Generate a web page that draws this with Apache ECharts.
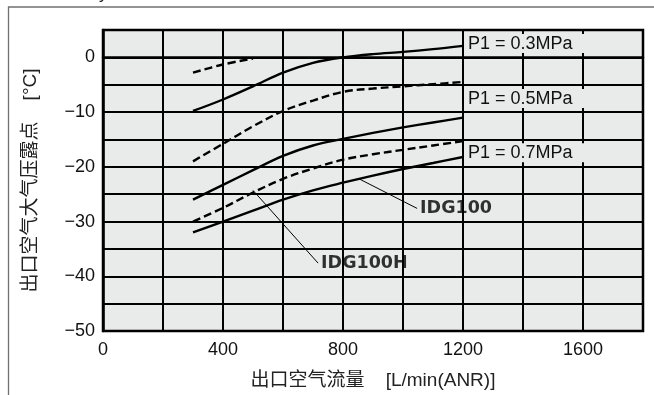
<!DOCTYPE html>
<html>
<head>
<meta charset="utf-8">
<script src="https://cdn.jsdelivr.net/npm/echarts@6/dist/echarts.min.js"></script>
<style>
html,body{margin:0;padding:0;background:#fff;}
#c{width:654px;height:395px;}
</style>
</head>
<body>
<div id="c"></div>
<script>
// ---- data ----
const flow = [300, 400, 500, 600, 700, 800, 900, 1000, 1100, 1200];
const flowShort = [300, 400, 500];
// IDG100 (solid)
const idg100_03 = [-9.8, -7.7, -5.3, -2.8, -1.0, 0, 0.6, 1.0, 1.5, 2.1];
const idg100_05 = [-26, -23.3, -20.6, -18, -16.1, -14.9, -13.8, -12.8, -11.9, -11];
const idg100_07 = [-32, -30, -28, -26, -24.3, -22.9, -21.6, -20.4, -19.3, -18.2];
// IDG100H (dashed)
const idg100h_03 = [-2.8, -1.3, -0.2];
const idg100h_05 = [-19, -15.8, -12.6, -9.8, -7.9, -6.3, -5.7, -5.3, -4.9, -4.5];
const idg100h_07 = [-30, -27.5, -24.7, -22.2, -20.3, -18.7, -17.7, -16.9, -16.1, -15.3];

const xTickValues = [0, 400, 800, 1200, 1600];
const xTickLabels = ['0', '400', '800', '1200', '1600'];
const yTickValues = [-50, -40, -30, -20, -10, 0];
const yTickLabels = ['\u221250', '\u221240', '\u221230', '\u221220', '\u221210', '0'];

const pressureLabels = ['P1 = 0.3MPa', 'P1 = 0.5MPa', 'P1 = 0.7MPa'];
const pressureLabelY = [2.45, -7.6, -17.5];
const pressureLabelX = 1200;

const modelNames = ['IDG100H', 'IDG100'];
const leaderIDG100H = [[500, -24.3], [717, -37.6]];
const leaderIDG100 = [[850, -22.1], [1047, -27.6]];

const xName = '出口空气流量    [L/min(ANR)]';
const yName = '出口空气大气压露点    [°C]';

// ---- chart ----
const LAT = '"Liberation Sans", Arial, "Noto Sans CJK SC", sans-serif';
const PLOT_BG = '#e9eaea';
const chart = echarts.init(document.getElementById('c'), null, {renderer: 'canvas'});

function zip(xs, ys) { return xs.map((x, i) => [x, ys[i]]); }
function curve(xs, ys, dashed) {
  return {
    type: 'line', data: zip(xs, ys), smooth: 0.35, showSymbol: false, silent: true,
    lineStyle: {color: '#000', width: 2.4, type: dashed ? [8, 4] : 'solid'},
    z: 3
  };
}
function leader(pts) {
  return {
    type: 'line', data: pts, showSymbol: false, silent: true,
    lineStyle: {color: '#000', width: 1}, z: 3
  };
}

const series = [
  curve(flow, idg100_03, false),
  curve(flow, idg100_05, false),
  curve(flow, idg100_07, false),
  curve(flowShort, idg100h_03, true),
  curve(flow, idg100h_05, true),
  curve(flow, idg100h_07, true),
  leader(leaderIDG100H),
  leader(leaderIDG100),
  {
    type: 'custom', silent: true, z: 20,
    data: pressureLabels.map((t, i) => [pressureLabelX, pressureLabelY[i], i]),
    renderItem: function (params, api) {
      const p = api.coord([api.value(0), api.value(1)]);
      const t = pressureLabels[api.value(2)];
      return {
        type: 'group',
        children: [
          {type: 'rect', shape: {x: p[0] + 1.5, y: p[1] - 10, width: 122, height: 19},
           style: {fill: PLOT_BG}},
          {type: 'text', x: p[0] + 5, y: p[1],
           style: {text: t, font: '18px "Liberation Sans", Arial, sans-serif', fill: '#111',
                   verticalAlign: 'middle', align: 'left'}}
        ]
      };
    }
  },
  {
    type: 'scatter', symbolSize: 0, silent: true, z: 20,
    data: [
      {value: leaderIDG100H[1], name: modelNames[0]},
      {value: leaderIDG100[1], name: modelNames[1]}
    ],
    label: {
      show: true, position: 'right', distance: 3,
      formatter: p => p.name,
      fontFamily: '"DejaVu Sans", sans-serif', fontWeight: 'bold', fontSize: 17.5, color: '#000'
    }
  }
];

chart.setOption({
  animation: false,
  backgroundColor: '#fff',
  grid: {
    left: 103, right: 11, top: 30, bottom: 64,
    show: true, backgroundColor: PLOT_BG, borderColor: '#000', borderWidth: 2.5
  },
  xAxis: {
    type: 'value', min: 0, max: 1800, interval: 200,
    name: xName, nameLocation: 'middle', nameGap: 40,
    nameTextStyle: {fontFamily: LAT, fontSize: 19, color: '#222'},
    axisLine: {show: true, lineStyle: {color: '#000', width: 2.5}},
    axisTick: {show: false},
    axisLabel: {
      margin: 10, fontFamily: LAT, fontSize: 18, color: '#111',
      formatter: v => { const i = xTickValues.indexOf(v); return i >= 0 ? xTickLabels[i] : ''; }
    },
    splitLine: {show: true, lineStyle: {color: '#000', width: 2}}
  },
  yAxis: {
    type: 'value', min: -50, max: 5, interval: 5,
    name: yName, nameLocation: 'middle', nameGap: 63, nameRotate: 90,
    nameTextStyle: {fontFamily: LAT, fontSize: 19, color: '#222'},
    axisLine: {show: true, lineStyle: {color: '#000', width: 2.5}},
    axisTick: {show: false},
    axisLabel: {
      margin: 8, fontFamily: LAT, fontSize: 18, color: '#111',
      formatter: v => { const i = yTickValues.indexOf(v); return i >= 0 ? yTickLabels[i] : ''; }
    },
    splitLine: {show: true, lineStyle: {color: '#000', width: 2}}
  },
  graphic: [
    {
      type: 'polyline', silent: true, z: 10,
      shape: {points: [[8.5, 395], [8.5, 7], [654, 7]]},
      style: {stroke: '#707070', lineWidth: 1.3, fill: null}
    },
    {
      type: 'text', silent: true, left: 99, top: -14,
      style: {text: 'y', font: '17px "Liberation Sans", Arial, sans-serif', fill: '#222'}
    }
  ],
  series: series
});
</script>
</body>
</html>
